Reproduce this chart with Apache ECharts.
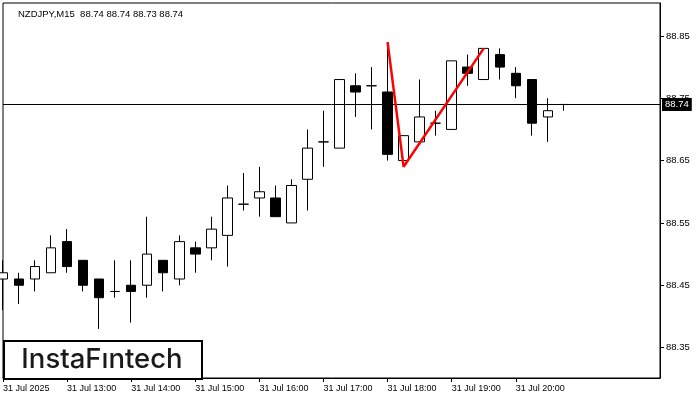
<!DOCTYPE html>
<html>
<head>
<meta charset="utf-8">
<script src="https://cdn.jsdelivr.net/npm/echarts@6/dist/echarts.min.js"></script>
<style>html,body{margin:0;padding:0;background:#fff}#c{width:700px;height:400px}</style>
</head>
<body>
<div id="c"></div>
<script>
const categories = ['12:00','12:15','12:30','12:45','13:00','13:15','13:30','13:45','14:00','14:15','14:30','14:45','15:00','15:15','15:30','15:45','16:00','16:15','16:30','16:45','17:00','17:15','17:30','17:45','18:00','18:15','18:30','18:45','19:00','19:15','19:30','19:45','20:00','20:15','20:30','20:45'];
const opens  = [88.46,88.46,88.46,88.47,88.52,88.49,88.46,88.44,88.45,88.45,88.49,88.46,88.51,88.51,88.53,88.58,88.59,88.59,88.55,88.62,88.68,88.67,88.77,88.77,88.76,88.65,88.68,88.71,88.70,88.80,88.78,88.82,88.79,88.78,88.72,88.74];
const closes = [88.47,88.45,88.48,88.51,88.48,88.45,88.43,88.44,88.44,88.50,88.47,88.52,88.50,88.54,88.59,88.58,88.60,88.56,88.61,88.67,88.68,88.78,88.76,88.77,88.66,88.69,88.72,88.71,88.81,88.79,88.83,88.80,88.77,88.71,88.73,88.74];
const lows   = [88.41,88.42,88.44,88.47,88.47,88.44,88.38,88.43,88.39,88.43,88.44,88.45,88.47,88.49,88.48,88.57,88.56,88.56,88.55,88.57,88.64,88.67,88.72,88.70,88.65,88.64,88.68,88.69,88.70,88.77,88.78,88.78,88.75,88.69,88.68,88.73];
const highs  = [88.49,88.47,88.49,88.53,88.54,88.49,88.46,88.49,88.49,88.56,88.49,88.53,88.52,88.56,88.61,88.63,88.64,88.61,88.62,88.70,88.73,88.78,88.79,88.80,88.84,88.69,88.78,88.73,88.81,88.82,88.83,88.83,88.80,88.78,88.75,88.74];
const yTicks = [88.35,88.45,88.55,88.65,88.75,88.85];
const patternIdx = [24,25,30];
const patternVals = [88.84,88.64,88.83];
const lastPrice = 88.74;
const titleText = 'NZDJPY,M15  88.74 88.74 88.73 88.74';
const dateLabel = '31 Jul 2025';
const dayPrefix = '31 Jul ';

const padCount = 6;
const axisCats = categories.concat(Array.from({length: padCount}, (_, i) => 'p' + i));
const candleData = categories.map((_, i) => [opens[i], closes[i], lows[i], highs[i]]);
const isHourTick = (i) => i < categories.length && categories[i].endsWith(':00');

const chart = echarts.init(document.getElementById('c'), null, {renderer: 'canvas'});
const fontFam = '"Liberation Sans", Arial, sans-serif';
chart.setOption({
  animation: false,
  backgroundColor: '#fff',
  title: {
    text: titleText, left: 13, top: 4,
    textStyle: {fontSize: 9.5, fontWeight: 'normal', color: '#000', fontFamily: fontFam}
  },
  grid: {left: 3, right: 40, top: 3, bottom: 22, show: true, borderColor: '#000', borderWidth: 1, backgroundColor: '#fff'},
  xAxis: {
    type: 'category', data: axisCats, boundaryGap: false,
    axisLine: {show: true, lineStyle: {color: '#000', width: 1}},
    axisTick: {show: true, length: 4, interval: (i) => isHourTick(i), lineStyle: {color: '#000'}},
    axisLabel: {
      interval: (i) => isHourTick(i), align: 'left', margin: 6,
      fontSize: 9, color: '#000', fontFamily: fontFam,
      formatter: (v, i) => i === 0 ? dateLabel : dayPrefix + v
    },
    splitLine: {show: false}
  },
  yAxis: {
    type: 'value', position: 'right', min: 88.3012, max: 88.9028, scale: true,
    axisLine: {show: true, lineStyle: {color: '#000', width: 1}},
    axisTick: {show: true, length: 4, customValues: yTicks, lineStyle: {color: '#000'}},
    axisLabel: {customValues: yTicks, margin: 6, fontSize: 9.5, color: '#000', fontFamily: fontFam, formatter: (v) => v.toFixed(2)},
    splitLine: {show: false}
  },
  series: [
    {
      type: 'candlestick', data: candleData, barWidth: 10, clip: true,
      itemStyle: {color: '#fff', color0: '#000', borderColor: '#000', borderColor0: '#000', borderColorDoji: '#000', borderWidth: 1},
      markLine: {
        silent: true, symbol: ['none', 'none'], animation: false,
        lineStyle: {color: '#000', width: 1, type: 'solid'},
        label: {
          show: true, position: 'end', distance: 2, formatter: lastPrice.toFixed(2),
          backgroundColor: '#000', color: '#fff', padding: [2, 3, 1, 3], fontSize: 9.5, fontFamily: fontFam
        },
        data: [{yAxis: lastPrice}]
      }
    },
    {
      type: 'line', data: patternIdx.map((x, k) => [x, patternVals[k]]),
      showSymbol: false, symbol: 'none', z: 5,
      lineStyle: {color: '#ff0000', width: 2.5}
    }
  ],
  graphic: [
    {
      type: 'rect', left: 3, top: 340, z: 100,
      shape: {width: 198, height: 38},
      style: {fill: '#fff', stroke: '#000', lineWidth: 2}
    },
    {
      type: 'text', z: 101, x: 102, y: 360,
      style: {text: 'InstaFıntech', fill: '#1a1a1a', align: 'center', verticalAlign: 'middle', font: '500 27.5px Inter, "Noto Sans", sans-serif'}
    }
  ]
});
</script>
</body>
</html>
